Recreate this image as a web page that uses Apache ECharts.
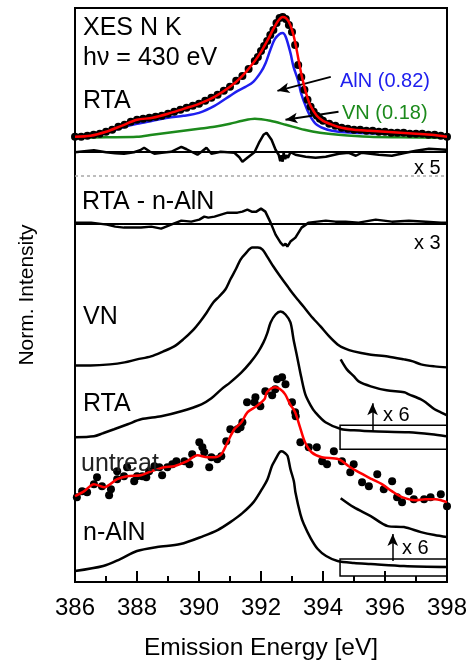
<!DOCTYPE html>
<html>
<head>
<meta charset="utf-8">
<script src="https://cdn.jsdelivr.net/npm/echarts@6/dist/echarts.min.js"></script>
<style>
html, body { margin: 0; padding: 0; background: #fff; }
#chart { width: 471px; height: 666px; }
</style>
</head>
<body>
<div id="chart"></div>
<script>
// energy [eV], intensity in a.u. measured from each curve's own baseline

// RTA sample, fit panel
var rtaDots = [[386.0,1],[386.2,1],[386.4,2],[386.6,3],[386.8,4],[387.0,6],[387.2,8],[387.4,11],[387.6,13],[387.8,16],
  [388.0,18],[388.2,19],[388.4,20],[388.6,21],[388.8,22],[389.0,24],[389.2,26],[389.4,28],[389.6,30],[389.8,32],
  [390.0,34],[390.2,37],[390.4,40],[390.6,43],[390.8,47],[391.0,51],[391.2,57],[391.4,62],[391.6,69],[391.8,77],
  [391.9,81],[392.0,87],[392.1,92],[392.2,97],[392.3,103],[392.4,108],[392.5,115],[392.6,120],[392.7,121],[392.8,119],
  [392.9,113],[393.0,106],[393.1,93],[393.2,73],[393.3,61],[393.4,48],[393.5,38],[393.6,31],[393.7,26],[393.8,22],
  [393.9,19],[394.0,17],[394.2,14],[394.4,12],[394.6,10],[394.8,9],[395.0,8],[395.2,8],[395.4,7],[395.6,7],
  [395.8,6],[396.0,6],[396.2,5],[396.4,5],[396.6,5],[396.8,4],[397.0,4],[397.2,4],[397.4,3],[397.6,3],[397.8,2],[398.0,1]];
var rtaFit = [[386.0,1],[386.5,2],[387.0,6],[387.5,12],[388.0,18],[388.5,20],[389.0,24],[389.5,29],[390.0,34],[390.5,41],
  [391.0,51],[391.4,62],[391.8,77],[392.0,86],[392.2,97],[392.4,109],[392.55,117],[392.7,121],[392.8,120],[392.9,116],
  [393.0,108],[393.1,96],[393.2,80],[393.3,64],[393.4,51],[393.5,40],[393.6,32],[393.8,22],[394.0,17],[394.3,13],
  [394.6,10],[395.0,8],[395.5,7],[396.0,6],[396.5,5],[397.0,4],[397.5,3],[398.0,1]];
var alnPart = [[386.0,1],[386.5,2],[387.0,5],[387.5,10],[388.0,14],[388.5,17],[389.0,20],[389.5,22],[390.0,25],[390.5,32],
  [391.0,42],[391.25,47],[391.5,51],[391.75,56],[392.0,66],[392.15,75],[392.3,88],[392.45,99],[392.6,104],[392.7,105],
  [392.8,101],[392.95,85],[393.05,71],[393.2,57],[393.3,44],[393.45,31],[393.6,21],[393.8,13],[394.15,8],[394.5,6],
  [395.0,5],[396.0,4],[397.0,3],[398.0,2]];
var vnPart = [[386.0,0],[387.0,0.5],[388.0,1],[388.5,3],[389.0,5],[389.5,7],[390.0,9],[390.5,11],[391.0,14],[391.4,17],
  [391.8,19],[392.3,17],[392.8,13],[393.4,8],[393.9,5],[394.5,3],[395.5,1],[396.5,0.5],[398.0,0]];

// fit residual (x5)
var residual = [[386.0,0],[386.3,1],[386.61,2],[387.0,0],[387.3,-1],[387.58,-1.5],[387.9,0],[388.1,2],[388.23,4.5],[388.4,1],
  [388.56,-1.5],[388.8,-0.5],[389.1,0.5],[389.43,5.5],[389.6,3],[389.95,-2.5],[390.1,1],[390.24,4.5],[390.4,-1.5],[390.7,0.5],
  [391.14,-0.5],[391.3,-5],[391.4,-9.5],[391.56,-5.5],[391.79,0],[391.95,10.5],[392.08,17.5],[392.18,19.5],[392.34,12.5],
  [392.47,2.5],[392.57,-2.5],[392.62,-9],[392.66,-3],[392.7,-9.5],[392.73,-0.5],[392.78,-7],[392.82,-3],[392.87,-5.5],
  [392.95,0],[393.11,-2.5],[393.44,-4.5],[393.76,-5.5],[394.09,-4.5],[394.51,-1.5],[394.83,-0.5],[395.06,-3.5],[395.25,-0.5],
  [395.8,-2.5],[396.22,-3.5],[396.67,-0.5],[397.0,1.5],[397.42,3.5],[397.97,2.5]];

// RTA - n-AlN (x3)
var rtaMinusAln = [[386.0,1],[386.52,1],[387.03,-1],[387.3,-3],[387.58,-4],[388.13,-4],[388.46,-3],[388.78,-5],[389.1,-1],
  [389.43,3],[389.75,2],[390.01,4],[390.17,7],[390.3,6],[390.5,7],[390.92,11],[391.24,11],[391.4,12],[391.56,14],[391.7,12],
  [391.85,12],[392.0,15],[392.14,12],[392.31,1],[392.47,-11],[392.63,-19],[392.72,-22],[392.79,-20],[392.85,-23],[392.95,-18],
  [393.11,-14],[393.31,-4],[393.54,1],[394.09,3],[394.4,2],[394.73,2],[395.15,1],[395.7,4],[396.22,2],[396.77,3],
  [397.32,2],[397.81,1],[398.0,1]];

// reference and sample spectra
var vnRef = [[386.0,2],[386.5,2],[387.13,3],[387.6,5],[388.0,8],[388.45,11],[388.85,16],[389.2,21],[389.49,28],[389.8,37],
  [390.04,46],[390.25,55],[390.46,65],[390.65,71],[390.85,78],[391.01,88],[391.2,99],[391.34,108],[391.5,114],[391.72,120],
  [391.9,120],[392.05,118],[392.2,111],[392.4,101],[392.6,92],[392.86,81],[393.0,75],[393.18,68],[393.37,61],[393.6,52],
  [393.92,41],[394.2,31],[394.47,23],[394.7,19],[394.99,16],[395.5,13],[396.09,11],[396.61,8],[396.9,6],[397.16,3],
  [397.6,1],[398.0,0]];
var rtaSpec = [[386.0,0],[386.61,1],[386.9,4],[387.26,8],[387.7,13],[388.13,18],[388.78,21],[389.43,26],[390.08,33],[390.4,39],
  [390.72,48],[391.01,55],[391.37,65],[391.66,75],[391.9,85],[392.08,95],[392.2,104],[392.31,115],[392.47,123],[392.63,126],
  [392.79,123],[392.95,115],[393.05,98],[393.17,80],[393.3,60],[393.43,43],[393.6,32],[393.75,25],[394.08,15],[394.6,8],
  [395.0,7],[395.57,6],[396.77,5],[397.5,3],[397.97,1]];
var rtaTail6 = [[394.57,78],[394.77,68],[395.0,61],[395.15,56],[395.54,51],[396.05,47],[396.62,45],[396.77,43],[397.16,38],
  [397.31,35],[397.6,28],[397.8,25],[398.0,22]];
var untreatDots = [[386.06,7],[386.23,13],[386.39,12],[386.61,20],[386.71,27],[386.87,18],[387.1,9],[387.16,15],[387.36,25],
  [387.36,33],[387.58,28],[387.68,37],[387.91,23],[388.0,28],[388.17,28],[388.3,27],[388.39,33],[388.56,38],[388.72,37],
  [388.81,29],[388.98,37],[389.14,40],[389.27,43],[389.53,43],[389.69,40],[389.78,50],[390.01,62],[390.11,57],[390.17,52],
  [390.33,37],[390.4,47],[390.59,45],[390.72,48],[390.88,63],[391.01,75],[391.24,75],[391.34,77],[391.4,82],[391.55,102],
  [391.79,102],[391.82,107],[391.98,98],[392.14,113],[392.36,109],[392.46,115],[392.52,125],[392.68,127],[392.79,120],
  [393.0,102],[393.1,92],[393.12,88],[393.27,62],[393.54,57],[393.8,57],[393.97,43],[394.13,40],[394.35,53],[394.61,43],
  [394.88,32],[394.99,40],[395.26,22],[395.48,18],[395.75,30],[395.96,15],[396.23,23],[396.39,7],[396.55,2],[396.77,13],
  [396.93,5],[397.26,5],[397.47,7],[397.8,10],[398.0,-2]];
var untreatSmooth = [[386.0,8],[386.3,13],[386.61,20],[386.94,17],[387.36,25],[387.68,28],[388.13,29],[388.46,33],[388.88,37],
  [389.2,38],[389.62,43],[389.95,49],[390.27,47],[390.5,47],[390.72,50],[390.92,62],[391.14,75],[391.37,82],[391.56,92],
  [391.85,98],[392.11,105],[392.19,112],[392.46,117],[392.62,115],[392.78,110],[392.94,100],[393.1,92],[393.26,77],
  [393.42,62],[393.63,52],[393.96,47],[394.5,45],[394.83,38],[395.15,32],[395.58,25],[395.9,20],[396.22,13],[396.55,7],
  [396.98,4],[397.3,5],[397.63,5],[398.0,2]];
var nalnSpec = [[386.0,0],[386.91,5],[387.46,12],[388.0,20],[388.65,24],[389.4,27],[390.14,35],[390.6,41],[391.01,49],
  [391.4,58],[391.76,69],[392.03,82],[392.21,92],[392.35,105],[392.47,112],[392.6,119],[392.67,120],[392.78,118],
  [392.86,115],[392.95,102],[393.06,90],[393.11,79],[393.27,57],[393.38,47],[393.6,33],[393.83,22],[394.1,15],
  [394.47,10],[395.0,8],[395.54,7],[396.61,5],[398.0,4]];
var nalnTail6 = [[394.57,73],[394.99,64],[395.54,55],[396.09,45],[396.61,44],[397.16,39],[397.6,36],[398.0,34]];

var xTicks = [386, 388, 390, 392, 394, 396, 398];

// vertical stacking (plot units = px above frame bottom)
var TOP_BASE = 445, RES_ZERO = 430.5, SEP_LINE = 407, DIFF_ZERO = 359;
var VN_BASE = 215, RTA_BASE = 145, UNT_BASE = 78, NALN_BASE = 11;

var FONT = 'Liberation Sans, Arial, sans-serif';

function shift(pairs, base) {
  return pairs.map(function (p) { return [p[0], p[1] + base]; });
}

function curve(name, pairs, base, color, z) {
  return {
    name: name,
    type: 'line',
    data: shift(pairs, base),
    showSymbol: false,
    smooth: 0.3,
    lineStyle: { color: color, width: 2.5 },
    z: z || 2,
    silent: true
  };
}

function zeroLine(v, style) {
  return {
    silent: true,
    symbol: ['none', 'none'],
    label: { show: false },
    lineStyle: style,
    data: [{ yAxis: v }]
  };
}

function arrow(x1, y1, x2, y2) {
  return [{ coord: [x1, y1] }, { coord: [x2, y2] }];
}

var chart = echarts.init(document.getElementById('chart'));

var resSeries = curve('residual', residual, RES_ZERO, '#000');
resSeries.smooth = false;
resSeries.markLine = {
  silent: true,
  symbol: ['none', 'none'],
  label: { show: false },
  data: [
    { yAxis: RES_ZERO, lineStyle: { color: '#000', width: 2, type: 'solid' } },
    { yAxis: SEP_LINE, lineStyle: { color: '#a8a8a8', width: 1.5, type: [3, 3] } }
  ]
};

var diffSeries = curve('RTA - n-AlN', rtaMinusAln, DIFF_ZERO, '#000');
diffSeries.smooth = false;
diffSeries.markLine = zeroLine(DIFF_ZERO, { color: '#000', width: 2, type: 'solid' });

var rtaTailSeries = curve('RTA x6', rtaTail6, RTA_BASE, '#000');
rtaTailSeries.markArea = {
  silent: true,
  itemStyle: { color: 'rgba(0,0,0,0)', borderColor: '#000', borderWidth: 1.5 },
  data: [[{ coord: [394.55, RTA_BASE + 12] }, { coord: [398, RTA_BASE - 12] }]]
};
rtaTailSeries.markLine = {
  silent: true,
  symbol: ['none', 'arrow'],
  symbolSize: [8, 12],
  label: { show: false },
  lineStyle: { color: '#000', width: 1.5, type: 'solid' },
  data: [arrow(395.6, RTA_BASE + 6, 395.6, RTA_BASE + 34)]
};

var nalnTailSeries = curve('n-AlN x6', nalnTail6, NALN_BASE, '#000');
nalnTailSeries.markArea = {
  silent: true,
  itemStyle: { color: 'rgba(0,0,0,0)', borderColor: '#000', borderWidth: 1.5 },
  data: [[{ coord: [394.55, NALN_BASE + 12] }, { coord: [398, NALN_BASE - 5] }]]
};
nalnTailSeries.markLine = {
  silent: true,
  symbol: ['none', 'arrow'],
  symbolSize: [8, 12],
  label: { show: false },
  lineStyle: { color: '#000', width: 1.5, type: 'solid' },
  data: [arrow(396.25, NALN_BASE + 10, 396.25, NALN_BASE + 37)]
};

var fitSeries = curve('fit', rtaFit, TOP_BASE, '#ff0000', 5);
fitSeries.markLine = {
  silent: true,
  symbol: ['none', 'arrow'],
  symbolSize: [8, 12],
  label: { show: false },
  lineStyle: { color: '#000', width: 2, type: 'solid' },
  data: [
    arrow(394.25, TOP_BASE + 61, 392.53, TOP_BASE + 47),
    arrow(394.5, TOP_BASE + 26, 392.79, TOP_BASE + 18)
  ]
};

function label(text, x, y, size, color) {
  return {
    type: 'text',
    x: x,
    y: y,
    silent: true,
    z: 100,
    style: {
      text: text,
      fontSize: size,
      fontFamily: FONT,
      fill: color || '#000',
      align: 'left',
      verticalAlign: 'middle'
    }
  };
}

chart.setOption({
  backgroundColor: '#fff',
  animation: false,
  grid: {
    left: 75, right: 24, top: 8, bottom: 83,
    show: true, borderColor: '#000', borderWidth: 2, backgroundColor: 'transparent'
  },
  xAxis: {
    type: 'value',
    min: 386, max: 398, interval: 2,
    name: 'Emission Energy [eV]',
    nameLocation: 'middle',
    nameGap: 54,
    nameTextStyle: { fontSize: 24.5, fontFamily: FONT, color: '#000' },
    axisLine: { show: true, lineStyle: { color: '#000', width: 2 } },
    axisTick: { show: true, inside: true, length: 11, lineStyle: { color: '#000', width: 2 } },
    minorTick: { show: true, splitNumber: 2, length: 6, lineStyle: { color: '#000', width: 2 } },
    splitLine: { show: false },
    axisLabel: {
      fontSize: 24, fontFamily: FONT, color: '#000', margin: 14,
      formatter: function (v) { return xTicks.indexOf(v) >= 0 ? String(v) : ''; }
    }
  },
  yAxis: {
    type: 'value',
    min: 0, max: 575,
    name: 'Norm. Intensity',
    nameLocation: 'middle',
    nameRotate: 90,
    nameGap: 37,
    nameTextStyle: { fontSize: 21, fontFamily: FONT, color: '#000' },
    axisLine: { show: false },
    axisTick: { show: false },
    axisLabel: { show: false },
    splitLine: { show: false }
  },
  graphic: [
    label('XES N K', 83, 28, 25),
    label('h\u03bd = 430 eV', 83, 58, 25),
    label('RTA', 83, 101, 25),
    label('AlN (0.82)', 340, 81, 20, '#2020ee'),
    label('VN (0.18)', 342, 113, 20, '#1c8a1c'),
    label('x 5', 414, 168, 20),
    label('RTA - n-AlN', 82, 202, 25),
    label('x 3', 414, 243, 20),
    label('VN', 83, 317, 25),
    label('RTA', 83, 404, 25),
    label('x 6', 383, 415, 20),
    label('untreat', 81, 464, 25, '#222'),
    label('n-AlN', 83, 533, 25),
    label('x 6', 402, 548, 20)
  ],
  series: [
    {
      name: 'RTA data',
      type: 'scatter',
      data: shift(rtaDots, TOP_BASE),
      symbol: 'circle',
      symbolSize: 8,
      itemStyle: { color: '#000', opacity: 1 },
      z: 3,
      silent: true
    },
    curve('AlN (0.82)', alnPart, TOP_BASE, '#1f1ff0', 2),
    curve('VN (0.18)', vnPart, TOP_BASE, '#1c8a1c', 2),
    fitSeries,
    resSeries,
    diffSeries,
    curve('VN', vnRef, VN_BASE, '#000'),
    curve('RTA', rtaSpec, RTA_BASE, '#000'),
    rtaTailSeries,
    {
      name: 'untreat data',
      type: 'scatter',
      data: shift(untreatDots, UNT_BASE),
      symbol: 'circle',
      symbolSize: 8,
      itemStyle: { color: '#000', opacity: 1 },
      z: 3,
      silent: true
    },
    curve('untreat smooth', untreatSmooth, UNT_BASE, '#ff0000', 5),
    curve('n-AlN', nalnSpec, NALN_BASE, '#000'),
    nalnTailSeries
  ]
});
</script>
</body>
</html>
